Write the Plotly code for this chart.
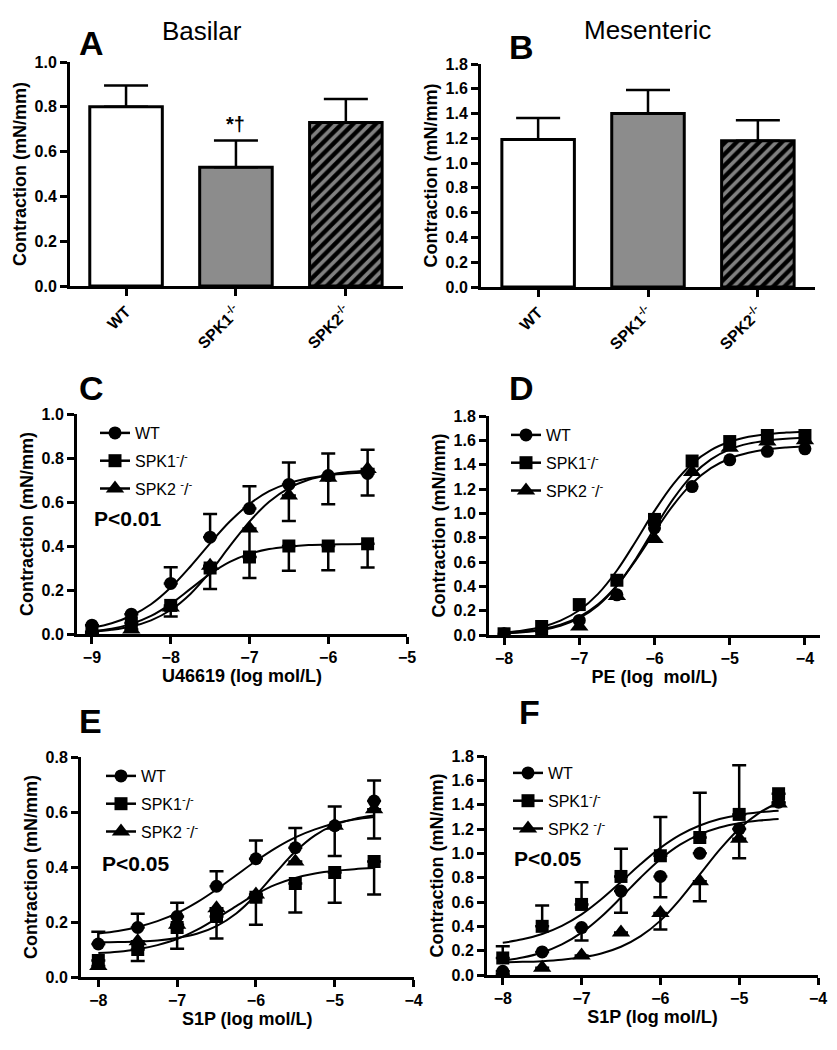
import plotly.graph_objects as go

W, H = 837, 1050
FONT = "Liberation Sans, Arial, sans-serif"

# ---------------- Panels A / B (bar charts) ----------------
groups = ["WT", "SPK1<sup>-/-</sup>", "SPK2<sup>-/-</sup>"]
basilar_mean = [0.80, 0.53, 0.73]
basilar_sem = [0.095, 0.12, 0.105]
mesenteric_mean = [1.19, 1.40, 1.18]
mesenteric_sem = [0.175, 0.19, 0.165]

# ---------------- Panel C: U46619, basilar ----------------
x_c = [-9, -8.5, -8, -7.5, -7, -6.5, -6, -5.5]
wt_c = [0.04, 0.09, 0.23, 0.44, 0.57, 0.68, 0.72, 0.73]
wt_c_up = [0, 0, 0.073, 0.105, 0.102, 0.10, 0.10, 0.107]
sk1_c = [0.01, 0.05, 0.13, 0.30, 0.35, 0.40, 0.40, 0.41]
sk1_c_lo = [0, 0, 0.05, 0.095, 0.095, 0.112, 0.11, 0.108]
sk2_c = [0.00, 0.02, 0.12, 0.31, 0.48, 0.63, 0.71, 0.75]
sk2_c_lo = [0, 0, 0, 0, 0.13, 0.116, 0.12, 0.12]
xfit_c = [-9, -8.75, -8.5, -8.25, -8, -7.75, -7.5, -7.25, -7, -6.75, -6.5, -6.25, -6, -5.75, -5.5]
wt_c_fit = [0.028, 0.049, 0.083, 0.135, 0.211, 0.307, 0.412, 0.511, 0.591, 0.649, 0.686, 0.708, 0.722, 0.730, 0.734]
sk1_c_fit = [0.013, 0.024, 0.046, 0.082, 0.137, 0.205, 0.273, 0.328, 0.364, 0.386, 0.397, 0.404, 0.407, 0.408, 0.409]
sk2_c_fit = [0.010, 0.019, 0.034, 0.062, 0.109, 0.182, 0.282, 0.399, 0.511, 0.601, 0.663, 0.701, 0.723, 0.736, 0.742]

# ---------------- Panel D: PE, mesenteric ----------------
x_d = [-8, -7.5, -7, -6.5, -6, -5.5, -5, -4.5, -4]
wt_d = [0.01, 0.01, 0.12, 0.33, 0.88, 1.22, 1.44, 1.51, 1.53]
sk1_d = [0.01, 0.07, 0.25, 0.45, 0.95, 1.43, 1.59, 1.64, 1.64]
sk2_d = [0.00, 0.00, 0.07, 0.32, 0.79, 1.34, 1.54, 1.59, 1.60]
xfit_d = [-8, -7.75, -7.5, -7.25, -7, -6.75, -6.5, -6.25, -6, -5.75, -5.5, -5.25, -5, -4.75, -4.5, -4.25, -4]
wt_d_fit = [0.015, 0.026, 0.048, 0.085, 0.149, 0.252, 0.407, 0.613, 0.846, 1.068, 1.246, 1.371, 1.451, 1.498, 1.526, 1.541, 1.550]
sk1_d_fit = [0.020, 0.037, 0.066, 0.118, 0.203, 0.338, 0.530, 0.769, 1.020, 1.241, 1.408, 1.520, 1.588, 1.629, 1.652, 1.664, 1.671]
sk2_d_fit = [0.012, 0.022, 0.041, 0.076, 0.138, 0.242, 0.403, 0.623, 0.877, 1.119, 1.312, 1.444, 1.526, 1.573, 1.599, 1.614, 1.621]

# ---------------- Panel E: S1P, basilar ----------------
x_e = [-8, -7.5, -7, -6.5, -6, -5.5, -5, -4.5]
wt_e = [0.12, 0.18, 0.22, 0.33, 0.43, 0.47, 0.55, 0.64]
wt_e_up = [0.045, 0.05, 0.05, 0.055, 0.066, 0.072, 0.07, 0.075]
sk1_e = [0.06, 0.10, 0.18, 0.22, 0.29, 0.34, 0.38, 0.42]
sk1_e_lo = [0, 0.042, 0.077, 0.08, 0.10, 0.105, 0.11, 0.12]
sk2_e = [0.04, 0.13, 0.19, 0.25, 0.30, 0.42, 0.55, 0.61]
sk2_e_lo = [0, 0, 0, 0, 0, 0, 0.11, 0.106]
xfit_e = [-8, -7.75, -7.5, -7.25, -7, -6.75, -6.5, -6.25, -6, -5.75, -5.5, -5.25, -5, -4.75, -4.5]
wt_e_fit = [0.158, 0.167, 0.182, 0.203, 0.232, 0.271, 0.318, 0.370, 0.422, 0.469, 0.508, 0.537, 0.558, 0.573, 0.582]
sk1_e_fit = [0.087, 0.092, 0.101, 0.116, 0.138, 0.171, 0.213, 0.258, 0.301, 0.336, 0.360, 0.376, 0.386, 0.392, 0.396]
sk2_e_fit = [0.126, 0.127, 0.129, 0.133, 0.142, 0.157, 0.185, 0.231, 0.298, 0.379, 0.456, 0.515, 0.553, 0.575, 0.587]

# ---------------- Panel F: S1P, mesenteric ----------------
x_f = [-8, -7.5, -7, -6.5, -6, -5.5, -5, -4.5]
wt_f = [0.03, 0.19, 0.39, 0.69, 0.81, 1.00, 1.20, 1.42]
wt_f_lo = [0, 0, 0.107, 0.178, 0.17, 0, 0, 0]
sk1_f = [0.14, 0.40, 0.58, 0.81, 0.98, 1.13, 1.32, 1.49]
sk1_f_up = [0.096, 0.172, 0.183, 0.228, 0.318, 0.368, 0.403, 0]
sk2_f = [0.01, 0.06, 0.16, 0.35, 0.51, 0.77, 1.12, 1.41]
sk2_f_lo = [0, 0, 0, 0, 0.137, 0.164, 0.16, 0]
xfit_f = [-8, -7.75, -7.5, -7.25, -7, -6.75, -6.5, -6.25, -6, -5.75, -5.5, -5.25, -5, -4.75, -4.5]
wt_f_fit = [0.117, 0.143, 0.185, 0.251, 0.348, 0.479, 0.637, 0.802, 0.952, 1.071, 1.156, 1.213, 1.248, 1.269, 1.282]
sk1_f_fit = [0.265, 0.293, 0.337, 0.404, 0.498, 0.622, 0.765, 0.912, 1.045, 1.152, 1.229, 1.282, 1.316, 1.337, 1.350]
sk2_f_fit = [0.105, 0.108, 0.114, 0.125, 0.145, 0.177, 0.232, 0.319, 0.447, 0.622, 0.825, 1.028, 1.202, 1.331, 1.418]

legend_names = ["WT", "SPK1<sup>-</sup>/<sup>-</sup>", "SPK2 <sup>-</sup>/<sup>-</sup>"]
symbols = ["circle", "square", "triangle-up"]
marker_sizes = [13, 13, 16]


def px(xp):
    return xp / W


def py(yp):
    return 1 - yp / H


fig = go.Figure()

# ---- bars ----
for i, (mean, sem) in enumerate([(basilar_mean, basilar_sem), (mesenteric_mean, mesenteric_sem)]):
    ax = "" if i == 0 else "2"
    fig.add_trace(go.Bar(
        x=groups, y=mean, xaxis="x" + ax, yaxis="y" + ax,
        width=0.66, showlegend=False,
        marker=dict(
            color=["white", "rgb(140,140,140)", "black"],
            line=dict(color="black", width=3),
            pattern=dict(shape=["", "", "/"], fgcolor="white", size=8, solidity=0.45,
                         fillmode="overlay"),
        ),
        error_y=dict(type="data", array=sem, arrayminus=[0, 0, 0], symmetric=False,
                     color="black", thickness=2.5, width=22),
    ))

# ---- curve panels ----
panels = [
    ("3", "legend", xfit_c, [wt_c_fit, sk1_c_fit, sk2_c_fit], x_c,
     [(wt_c, wt_c_up, None), (sk1_c, None, sk1_c_lo), (sk2_c, None, sk2_c_lo)]),
    ("4", "legend2", xfit_d, [wt_d_fit, sk1_d_fit, sk2_d_fit], x_d,
     [(wt_d, None, None), (sk1_d, None, None), (sk2_d, None, None)]),
    ("5", "legend3", xfit_e, [wt_e_fit, sk1_e_fit, sk2_e_fit], x_e,
     [(wt_e, wt_e_up, None), (sk1_e, None, sk1_e_lo), (sk2_e, None, sk2_e_lo)]),
    ("6", "legend4", xfit_f, [wt_f_fit, sk1_f_fit, sk2_f_fit], x_f,
     [(wt_f, None, wt_f_lo), (sk1_f, sk1_f_up, None), (sk2_f, None, sk2_f_lo)]),
]

for ax, leg, xfit, fits, xs, series in panels:
    for fy in fits:
        fig.add_trace(go.Scatter(
            x=xfit, y=fy, xaxis="x" + ax, yaxis="y" + ax, mode="lines",
            line=dict(color="black", width=2, shape="spline", smoothing=1.0),
            showlegend=False, hoverinfo="skip"))
    for k, (ys, up, lo) in enumerate(series):
        err = None
        if up is not None or lo is not None:
            n = len(ys)
            err = dict(type="data", symmetric=False,
                       array=up if up is not None else [0] * n,
                       arrayminus=lo if lo is not None else [0] * n,
                       color="black", thickness=2.5, width=7)
        fig.add_trace(go.Scatter(
            x=xs, y=ys, xaxis="x" + ax, yaxis="y" + ax, mode="markers",
            marker=dict(symbol=symbols[k], size=marker_sizes[k], color="black"),
            error_y=err, showlegend=False))
    # legend entries (line + marker)
    for k in range(3):
        fig.add_trace(go.Scatter(
            x=[None], y=[None], xaxis="x" + ax, yaxis="y" + ax, mode="lines+markers",
            name=legend_names[k], legend=leg, legendgroup=leg + str(k),
            marker=dict(symbol=symbols[k], size=marker_sizes[k], color="black"),
            line=dict(color="black", width=2.5)))

axis_common = dict(showline=True, linecolor="black", linewidth=3, ticks="outside",
                   ticklen=7, tickwidth=2.5, tickcolor="black", showgrid=False,
                   zeroline=False, automargin=False,
                   tickfont=dict(family=FONT, size=16, color="black", weight="bold"))
ytitle = dict(text="Contraction (mN/mm)", font=dict(family=FONT, size=18, color="black", weight="bold"),
              standoff=4)


def xt(t):
    return dict(text=t, font=dict(family=FONT, size=18, color="black", weight="bold"), standoff=4)


layout_axes = {
    # A
    "xaxis": dict(axis_common, domain=[px(70), px(403)], anchor="y", type="category",
                  range=[-0.51, 2.52], tickangle=-45),
    "yaxis": dict(axis_common, domain=[py(286), py(62)], anchor="x", range=[0, 1.0],
                  dtick=0.2, tickformat=".1f", title=ytitle),
    # B
    "xaxis2": dict(axis_common, domain=[px(481), px(815)], anchor="y2", type="category",
                   range=[-0.52, 2.52], tickangle=-45),
    "yaxis2": dict(axis_common, domain=[py(287), py(64)], anchor="x2", range=[0, 1.8],
                   dtick=0.2, tickformat=".1f", title=ytitle),
    # C
    "xaxis3": dict(axis_common, domain=[px(77), px(407)], anchor="y3", range=[-9.19, -5],
                   dtick=1, tick0=-9, title=xt("U46619 (log mol/L)")),
    "yaxis3": dict(axis_common, domain=[py(634), py(414)], anchor="x3", range=[0, 1.0],
                   dtick=0.2, tickformat=".1f", title=ytitle),
    # D
    "xaxis4": dict(axis_common, domain=[px(489), px(820)], anchor="y4", range=[-8.2, -3.8],
                   dtick=1, tick0=-8, title=xt("PE (log  mol/L)")),
    "yaxis4": dict(axis_common, domain=[py(635), py(416)], anchor="x4", range=[0, 1.8],
                   dtick=0.2, tickformat=".1f", title=ytitle),
    # E
    "xaxis5": dict(axis_common, domain=[px(81), px(413.5)], anchor="y5", range=[-8.22, -4],
                   dtick=1, tick0=-8, title=xt("S1P (log mol/L)")),
    "yaxis5": dict(axis_common, domain=[py(977), py(757)], anchor="x5", range=[0, 0.8],
                   dtick=0.2, tickformat=".1f", title=ytitle),
    # F
    "xaxis6": dict(axis_common, domain=[px(487), px(818)], anchor="y6", range=[-8.2, -4],
                   dtick=1, tick0=-8, title=xt("S1P (log mol/L)")),
    "yaxis6": dict(axis_common, domain=[py(975), py(756)], anchor="x6", range=[0, 1.8],
                   dtick=0.2, tickformat=".1f", title=ytitle),
}

leg_common = dict(xanchor="left", yanchor="top", bgcolor="rgba(0,0,0,0)", borderwidth=0,
                  font=dict(family=FONT, size=16, color="black"), tracegroupgap=4,
                  itemwidth=30, traceorder="grouped")
legends = {
    "legend": dict(leg_common, x=px(95), y=py(416)),
    "legend2": dict(leg_common, x=px(506), y=py(418)),
    "legend3": dict(leg_common, x=px(101), y=py(759)),
    "legend4": dict(leg_common, x=px(508), y=py(756)),
}

annotations = []


def ann(text, x, y, size, bold=False, xanchor="center"):
    annotations.append(dict(text=text, x=px(x), y=py(y), xref="paper", yref="paper",
                            xanchor=xanchor, yanchor="middle", showarrow=False,
                            font=dict(family=FONT, size=size, color="black",
                                      weight="bold" if bold else "normal")))


ann("Basilar", 202, 31, 26)
ann("Mesenteric", 647, 30, 26)
ann("A", 91, 43, 34, True)
ann("B", 521, 47, 34, True)
ann("C", 91, 388, 34, True)
ann("D", 521, 388, 34, True)
ann("E", 90, 721, 34, True)
ann("F", 529, 712, 34, True)
ann("P<0.01", 92, 518, 21, True, "left")
ann("P<0.05", 100, 863, 21, True, "left")
ann("P<0.05", 512, 858, 21, True, "left")
annotations.append(dict(text="*†", x=groups[1], y=basilar_mean[1] + basilar_sem[1], xref="x", yref="y",
                        xanchor="center", yanchor="bottom", yshift=3, showarrow=False,
                        font=dict(family=FONT, size=20, color="black", weight="bold")))

fig.update_layout(
    width=W, height=H, margin=dict(l=0, r=0, t=0, b=0),
    paper_bgcolor="white", plot_bgcolor="white",
    font=dict(family=FONT, color="black"),
    annotations=annotations, bargap=0.34,
    **layout_axes, **legends,
)

fig.write_html("out.html", config={"displayModeBar": False},
               post_script="document.body.style.margin='0px';document.body.style.overflow='hidden';")
